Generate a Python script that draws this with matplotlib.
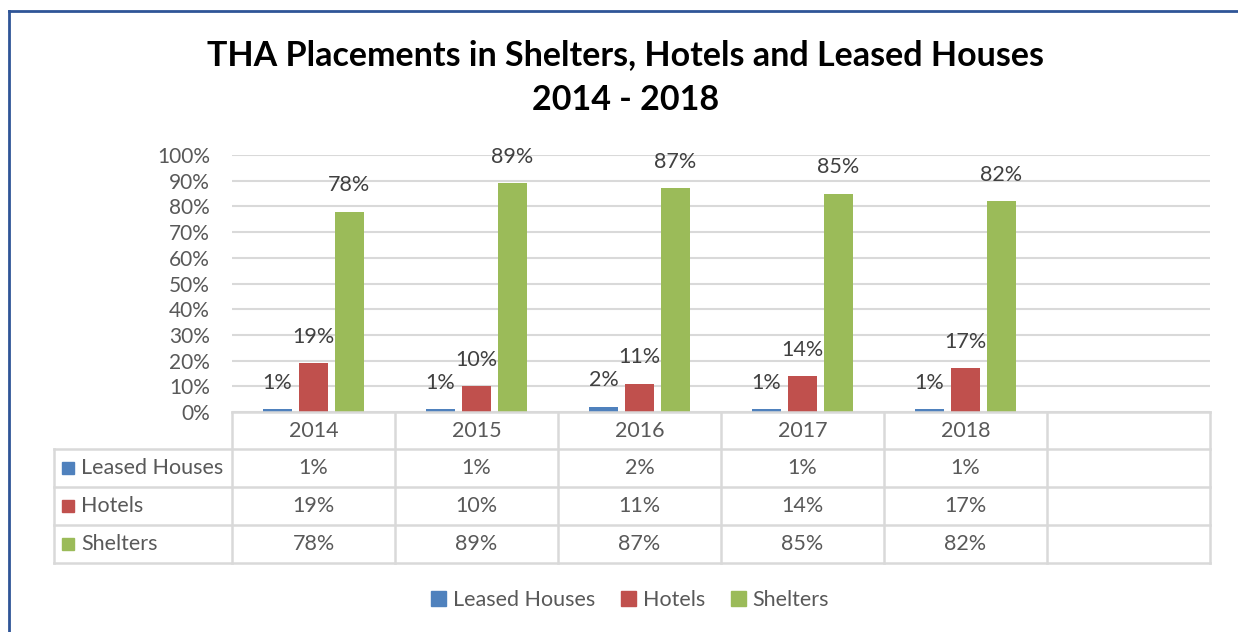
import matplotlib.pyplot as plt
import matplotlib.transforms as mtransforms
from matplotlib.patches import Patch
import numpy as np

years = ["2014", "2015", "2016", "2017", "2018"]
series = ["Leased Houses", "Hotels", "Shelters"]
leased = [1, 1, 2, 1, 1]
hotels = [19, 10, 11, 14, 17]
shelters = [78, 89, 87, 85, 82]
colors = ["#4F81BD", "#C0504D", "#9BBB59"]

W, H = 1238, 632
plt.rcParams['font.family'] = ['Lato', 'DejaVu Sans']
txt = "#595959"
grid_c = "#D9D9D9"
fs = 15.5

fig = plt.figure(figsize=(W / 100, H / 100), dpi=100)


def fy(py):
    return 1 - py / H


def fx(px):
    return px / W


ax = fig.add_axes([fx(232), fy(412), fx(1210) - fx(232), fy(155) - fy(412)])

x = np.arange(len(years))
vals = [leased, hotels, shelters]
offsets = [-0.22, 0.0, 0.22]
bw = 0.178
for v, off, c in zip(vals, offsets, colors):
    bars = ax.bar(x + off, v, width=bw, color=c, zorder=3)
    for b, val in zip(bars, v):
        ax.annotate(f"{val}%", (b.get_x() + b.get_width() / 2, b.get_height()),
                    xytext=(0, 19), textcoords="offset points",
                    ha="center", va="center", fontsize=fs, color="#404040")

ax.set_xlim(-0.5, 5.5)
ax.set_ylim(0, 100)
ax.set_yticks(range(0, 101, 10))
ax.set_yticklabels([f"{t}%" for t in range(0, 101, 10)], fontsize=15, color=txt)
ax.set_xticks([])
ax.tick_params(axis="y", length=0, pad=16)
ax.grid(axis="y", color=grid_c, linewidth=1.5, zorder=0)
for s in ax.spines.values():
    s.set_visible(False)

# data table below the axis
tr = mtransforms.blended_transform_factory(ax.transData, fig.transFigure)
lw = 1.8
rows_y = [412, 449, 487, 525, 563]
for i, py in enumerate(rows_y):
    if i == 0:
        fig.add_artist(plt.Line2D([-0.5, 5.5], [fy(py)] * 2, transform=tr, color=grid_c, lw=lw))
    else:
        fig.add_artist(plt.Line2D([fx(54), fx(1210)], [fy(py)] * 2, transform=fig.transFigure,
                                  color=grid_c, lw=lw))
for k in range(len(years) + 2):
    fig.add_artist(plt.Line2D([k - 0.5] * 2, [fy(412), fy(563)], transform=tr, color=grid_c, lw=lw))
fig.add_artist(plt.Line2D([fx(54)] * 2, [fy(449), fy(563)], transform=fig.transFigure,
                          color=grid_c, lw=lw))

for i, yr in enumerate(years):
    fig.text(i, fy(431), yr, transform=tr, ha="center", va="center", fontsize=fs, color=txt)

row_centers = [468, 506, 544]
for name, v, c, py in zip(series, vals, colors, row_centers):
    fig.patches.append(plt.Rectangle((fx(62), fy(py + 6)), fx(12), 12 / H,
                                     transform=fig.transFigure, color=c))
    fig.text(fx(81), fy(py), name, ha="left", va="center", fontsize=fs, color=txt)
    for i, val in enumerate(v):
        fig.text(i, fy(py), f"{val}%", transform=tr, ha="center", va="center",
                 fontsize=fs, color=txt)

# title
fig.text(0.505, fy(55), "THA Placements in Shelters, Hotels and Leased Houses",
         ha="center", va="center", fontsize=24.5, fontweight="bold", color="black")
fig.text(0.505, fy(100), "2014 - 2018", ha="center", va="center",
         fontsize=24.5, fontweight="bold", color="black")

# legend
handles = [Patch(color=c, label=s) for s, c in zip(series, colors)]
fig.legend(handles=handles, loc="center", bbox_to_anchor=(fx(630), fy(600)), ncol=3,
           frameon=False, fontsize=fs, handlelength=0.7, handleheight=0.7,
           handletextpad=0.3, columnspacing=1.2, labelcolor=txt)

# outer frame (top and left edges visible)
frame_c = "#2F5597"
fig.add_artist(plt.Line2D([fx(9), 1], [fy(11), fy(11)], transform=fig.transFigure, color=frame_c, lw=2))
fig.add_artist(plt.Line2D([fx(9), fx(9)], [fy(11), 0], transform=fig.transFigure, color=frame_c, lw=2))

fig.savefig("out.png", dpi=100)
